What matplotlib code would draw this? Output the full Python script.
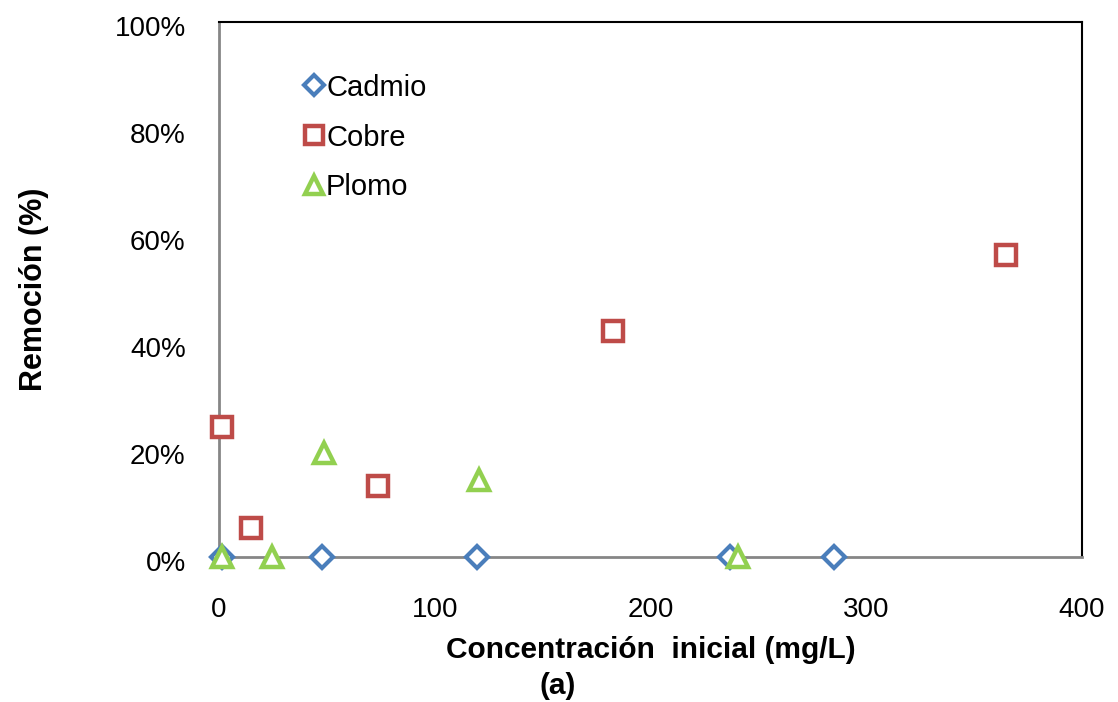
import matplotlib
matplotlib.use("Agg")
import matplotlib.pyplot as plt
from matplotlib.ticker import FuncFormatter
from matplotlib.transforms import ScaledTranslation

plt.rcParams['font.family'] = ['Liberation Sans', 'DejaVu Sans']

cad_x = [1.4, 47.7, 119.5, 236.8, 285.0]
cad_y = [0.0, 0.0, 0.0, 0.0, 0.0]
cob_x = [1.4, 14.8, 73.7, 182.6, 364.7]
cob_y = [0.243, 0.054, 0.133, 0.422, 0.564]
plo_x = [1.4, 24.5, 48.6, 120.5, 240.5]
plo_y = [0.0, 0.0, 0.194, 0.144, 0.0]

fig = plt.figure(figsize=(11.18, 7.02), dpi=100)
ax = fig.add_axes([219/1118, 1-557/702, (1082-219)/1118, (557-22)/702])

ax.plot(cad_x, cad_y, linestyle='none', marker='D', markersize=11, markeredgewidth=3,
        markerfacecolor='white', markeredgecolor='#4A7EBB', label='Cadmio', clip_on=False, zorder=3)
ax.plot(cob_x, cob_y, linestyle='none', marker='s', markersize=14, markeredgewidth=3.2,
        markerfacecolor='white', markeredgecolor='#BE4B48', label='Cobre', clip_on=False, zorder=3)
ax.plot(plo_x, plo_y, linestyle='none', marker='^', markersize=14, markeredgewidth=3.2,
        markerfacecolor='white', markeredgecolor='#92D050', label='Plomo', clip_on=False, zorder=4)

ax.set_xlim(0, 400)
ax.set_ylim(0, 1.0)
ax.set_xticks([0, 100, 200, 300, 400])
ax.set_yticks([0, 0.2, 0.4, 0.6, 0.8, 1.0])
ax.yaxis.set_major_formatter(FuncFormatter(lambda v, p: f"{v*100:.0f}%"))
ax.tick_params(length=0, labelsize=20)
ax.tick_params(axis='y', pad=24)
ax.tick_params(axis='x', pad=29)

off = ScaledTranslation(0, -4/100, fig.dpi_scale_trans)
for lab in ax.get_yticklabels():
    lab.set_transform(lab.get_transform() + off)

for s in ['left', 'bottom']:
    ax.spines[s].set_color('#868686')
    ax.spines[s].set_linewidth(2)
for s in ['top', 'right']:
    ax.spines[s].set_color('black')
    ax.spines[s].set_linewidth(1.5)

ax.set_xlabel('Concentración  inicial (mg/L)', fontsize=21.5, fontweight='bold', labelpad=9)
ax.set_ylabel('Remoción (%)', fontsize=22, fontweight='bold', labelpad=47)
fig.text(558/1118, 1-686/702, '(a)', fontsize=21.5, fontweight='bold', ha='center', va='center')

leg = ax.legend(loc='upper left', bbox_to_anchor=(75/863, 1-40/535), frameon=False,
                fontsize=21, handlelength=0.6, handletextpad=0.1, labelspacing=0.75,
                markerscale=0.9, borderaxespad=0)

fig.savefig('out.png', dpi=100)
